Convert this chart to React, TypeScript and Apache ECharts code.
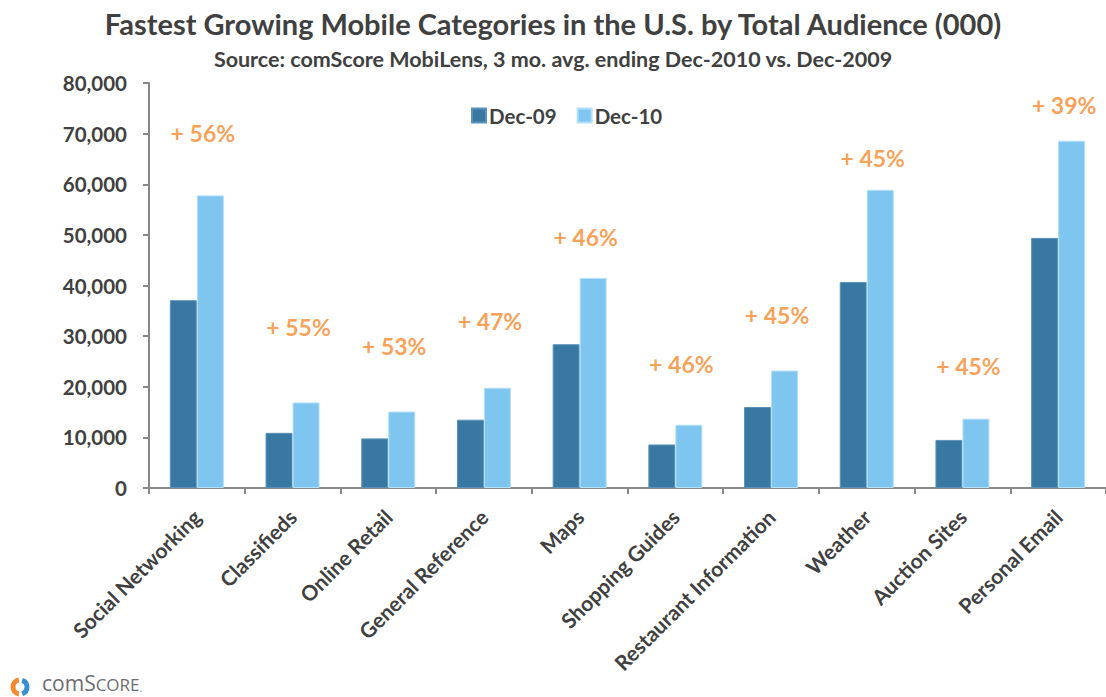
import React, { useEffect, useRef } from "react";
import * as echarts from "echarts";

const categories = [
  "Social Networking",
  "Classifieds",
  "Online Retail",
  "General Reference",
  "Maps",
  "Shopping Guides",
  "Restaurant Information",
  "Weather",
  "Auction Sites",
  "Personal Email",
];
const dec09 = [37100, 10900, 9800, 13500, 28400, 8600, 16000, 40700, 9500, 49400];
const dec10 = [57800, 16900, 15100, 19800, 41500, 12500, 23200, 58900, 13700, 68600];
const growth = ["+ 56%", "+ 55%", "+ 53%", "+ 47%", "+ 46%", "+ 46%", "+ 45%", "+ 45%", "+ 45%", "+ 39%"];
const growthLabelY = [70100, 31800, 28000, 33000, 49600, 24500, 34200, 65200, 24100, 75700];
const yTicks = { min: 0, max: 80000, interval: 10000 };

const FONT = "Lato, 'Open Sans', sans-serif";
const DARK = "#404040";

export default function App() {
  const ref = useRef<HTMLDivElement>(null);
  useEffect(() => {
    if (!ref.current) return;
    const chart = echarts.init(ref.current, undefined, { renderer: "svg" });
    chart.setOption({
      animation: false,
      backgroundColor: "#ffffff",
      textStyle: { fontFamily: FONT },
      title: [
        {
          text: "Fastest Growing Mobile Categories in the U.S. by Total Audience (000)",
          left: "center",
          top: 4,
          textStyle: { fontFamily: FONT, fontSize: 29, fontWeight: "bold", color: DARK },
        },
        {
          text: "Source: comScore MobiLens, 3 mo. avg. ending Dec-2010 vs. Dec-2009",
          left: "center",
          top: 43,
          textStyle: { fontFamily: FONT, fontSize: 21.5, fontWeight: "bold", color: DARK },
        },
      ],
      legend: {
        data: ["Dec-09", "Dec-10"],
        left: 466,
        top: 100,
        itemWidth: 14,
        itemHeight: 14,
        itemGap: 20,
        icon: "rect",
        textStyle: { fontFamily: FONT, fontSize: 20.5, fontWeight: "bold", color: DARK, padding: [0, 0, 0, -2] },
      },
      grid: { left: 149, right: -3, top: 83, bottom: 209, containLabel: false },
      xAxis: {
        type: "category",
        data: categories,
        axisLine: { lineStyle: { color: "#888888", width: 2 } },
        axisTick: { show: true, length: 6, lineStyle: { color: "#888888", width: 2 } },
        axisLabel: {
          rotate: 45,
          interval: 0,
          margin: 25,
          fontFamily: FONT,
          fontSize: 21,
          fontWeight: "bold",
          color: DARK,
        },
      },
      yAxis: {
        type: "value",
        min: yTicks.min,
        max: yTicks.max,
        interval: yTicks.interval,
        splitLine: { show: false },
        axisLine: { show: true, lineStyle: { color: "#888888", width: 2 } },
        axisTick: { show: true, length: 6, lineStyle: { color: "#888888", width: 2 } },
        axisLabel: {
          margin: 22,
          fontFamily: FONT,
          fontSize: 20.5,
          fontWeight: "bold",
          color: DARK,
          formatter: (v: number) => v.toLocaleString("en-US"),
        },
      },
      series: [
        {
          name: "Dec-09",
          type: "bar",
          data: dec09,
          barWidth: 27,
          barGap: "0%",
          itemStyle: { color: "#3a78a4", borderColor: "#5b92bb", borderWidth: 1 },
        },
        {
          name: "Dec-10",
          type: "bar",
          data: dec10,
          barWidth: 27,
          barGap: "0%",
          itemStyle: { color: "#7ec6f0", borderColor: "#b4e0f8", borderWidth: 1 },
        },
        {
          name: "growth",
          type: "scatter",
          data: growthLabelY,
          symbolSize: 0,
          silent: true,
          label: {
            show: true,
            position: "inside",
            offset: [6, 0],
            formatter: (p: any) => growth[p.dataIndex],
            fontFamily: FONT,
            fontSize: 23,
            fontWeight: "bold",
            color: "#f5882a",
          },
        },
      ],
      graphic: [
        {
          type: "arc",
          shape: { cx: 20, cy: 687, r: 7, startAngle: Math.PI * 0.55, endAngle: Math.PI * 1.45 },
          style: { stroke: "#f28a2e", lineWidth: 5, fill: "none" },
        },
        {
          type: "arc",
          shape: { cx: 20, cy: 687, r: 7, startAngle: Math.PI * 1.6, endAngle: Math.PI * 2.4 },
          style: { stroke: "#3a8fd0", lineWidth: 5, fill: "none" },
        },
        {
          type: "text",
          left: 42,
          top: 672,
          style: {
            text: "{a|comS}{c|CORE}{d|.}",
            rich: {
              a: { fontFamily: "'Open Sans', sans-serif", fontSize: 21, fill: "#6d6e71", verticalAlign: "bottom", lineHeight: 22 },
              c: { fontFamily: "'Open Sans', sans-serif", fontSize: 17, fill: "#6d6e71", verticalAlign: "bottom", lineHeight: 22 },
              d: { fontFamily: "'Open Sans', sans-serif", fontSize: 10, fill: "#6d6e71", verticalAlign: "bottom", lineHeight: 22 },
            },
          },
        },
      ],
    });
    return () => chart.dispose();
  }, []);
  return <div ref={ref} style={{ width: 1106, height: 697, position: "absolute", left: 0, top: 0 }} />;
}
